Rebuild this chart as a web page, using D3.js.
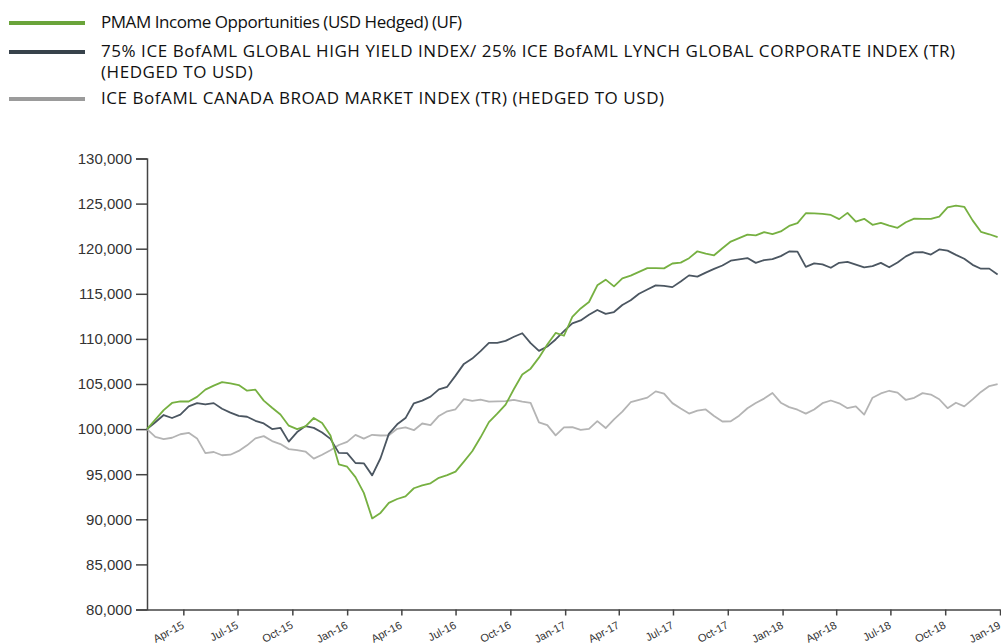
<!DOCTYPE html>
<html><head><meta charset="utf-8">
<script src="https://cdn.jsdelivr.net/npm/d3@7"></script>
<style>body{margin:0;background:#fff;overflow:hidden}svg{display:block}</style>
</head><body>
<svg id="chart" width="1001" height="644"></svg>
<script>
// ---- DATA ----
const startDate = "2015-01-30";   // first observation
const stepDays = 14;               // observations every two weeks

const pmamValues = [100000,101040,102110,102900,103070,103060,103570,104370,104820,105210,105060,104880,104260,104370,103160,102370,101620,100380,99990,100310,101230,100670,99290,96100,95830,94680,92930,90100,90710,91820,92250,92550,93440,93750,93990,94600,94900,95290,96400,97540,99090,100780,101710,102720,104450,106060,106700,107920,109380,110660,110350,112450,113380,114090,115940,116570,115820,116720,117020,117430,117850,117850,117820,118360,118460,118950,119710,119460,119270,120050,120790,121170,121560,121470,121830,121620,121920,122530,122830,123930,123920,123860,123740,123280,123970,123000,123310,122650,122860,122560,122310,122930,123340,123300,123300,123560,124570,124780,124640,123140,121870,121600,121290];

const blendValues = [100000,100760,101560,101230,101600,102510,102870,102730,102880,102250,101830,101460,101370,100920,100630,100000,100140,98610,99670,100330,100140,99630,98920,97360,97340,96240,96210,94870,96770,99470,100530,101220,102860,103160,103600,104410,104690,105930,107230,107820,108650,109550,109550,109780,110240,110630,109530,108670,109150,109940,110850,111730,112050,112670,113210,112780,112980,113760,114280,115010,115480,115940,115880,115740,116360,117040,116910,117350,117760,118140,118670,118820,118960,118430,118740,118840,119180,119690,119680,117990,118380,118270,117890,118440,118540,118240,117940,118060,118430,117940,118480,119150,119590,119610,119350,119920,119790,119320,118880,118210,117780,117790,117130];

const canadaValues = [100000,99140,98890,99040,99430,99590,98970,97340,97460,97100,97160,97580,98200,98970,99220,98670,98340,97780,97670,97510,96730,97160,97660,98240,98590,99360,98950,99370,99290,99320,100030,100190,99880,100620,100440,101460,101970,102200,103330,103130,103270,103040,103070,103100,103250,103040,102900,100740,100440,99300,100200,100220,99910,100030,100890,100120,101080,101930,102980,103230,103490,104180,103940,102880,102280,101720,102050,102180,101460,100840,100860,101490,102310,102900,103380,104000,102930,102440,102150,101720,102180,102870,103170,102860,102320,102520,101610,103480,103950,104250,104040,103230,103470,103990,103830,103310,102320,102920,102520,103300,104120,104770,104990];

const seriesNames = [
  ["PMAM Income Opportunities (USD Hedged) (UF)"],
  ["75% ICE BofAML GLOBAL HIGH YIELD INDEX/ 25% ICE BofAML LYNCH GLOBAL CORPORATE INDEX (TR)", "(HEDGED TO USD)"],
  ["ICE BofAML CANADA BROAD MARKET INDEX (TR) (HEDGED TO USD)"]
];
const lineColors = ["#76b041", "#4b5661", "#b4b4b4"];
const legendColors = ["#6aa43a", "#37424b", "#9b9b9b"];
const legendSpacing = [-0.45, 0.55, 0.55];

const xTickLabels = ["Apr-15","Jul-15","Oct-15","Jan-16","Apr-16","Jul-16","Oct-16","Jan-17","Apr-17","Jul-17","Oct-17","Jan-18","Apr-18","Jul-18","Oct-18","Jan-19"];
const yTickValues = [80000,85000,90000,95000,100000,105000,110000,115000,120000,125000,130000];
const xDomainEnd = "2019-01-01";

// ---- CHART ----
const svg = d3.select("#chart");
const parseISO = d3.timeParse("%Y-%m-%d");
const parseTick = d3.timeParse("%b-%y");
const t0 = parseISO(startDate);
const dates = pmamValues.map((_, i) => d3.timeDay.offset(t0, i * stepDays));

const x = d3.scaleTime().domain([t0, parseISO(xDomainEnd)]).range([147, 1000]);
const y = d3.scaleLinear().domain([80000, 130000]).range([609.5, 158.5]);

// legend
const lg = svg.append("g").attr("class", "legend");
const legendRows = [28, 57, 104];
seriesNames.forEach((lines, i) => {
  const yy = legendRows[i];
  lg.append("line").attr("x1", 9).attr("x2", 85).attr("y1", yy - 5).attr("y2", yy - 5)
    .attr("stroke", legendColors[i]).attr("stroke-width", 4);
  const t = lg.append("text").attr("x", 101).attr("y", yy)
    .attr("font-family", "'Open Sans', Lato, sans-serif").attr("font-size", 17)
    .attr("letter-spacing", legendSpacing[i]).attr("fill", "#111");
  lines.forEach((ln, j) => t.append("tspan").attr("x", 101).attr("dy", j === 0 ? 0 : 21).text(ln));
});

// axes
const yAxis = d3.axisLeft(y).tickValues(yTickValues).tickSize(11).tickPadding(4)
  .tickFormat(d3.format(","));
const gy = svg.append("g").attr("transform", "translate(147,0)").call(yAxis);
gy.select(".domain").attr("stroke", "#444").attr("stroke-width", 1.5);
gy.selectAll(".tick line").attr("stroke", "#444").attr("stroke-width", 1.5);
gy.selectAll(".tick text").attr("font-family", "'Liberation Sans', Arial, sans-serif")
  .attr("font-size", 15).attr("fill", "#333");

const xAxis = d3.axisBottom(x).tickValues(xTickLabels.map(parseTick)).tickSize(6).tickSizeOuter(0)
  .tickFormat(d3.timeFormat("%b-%y"));
const gx = svg.append("g").attr("transform", "translate(0,609.5)").call(xAxis);
gx.select(".domain").attr("stroke", "#444").attr("stroke-width", 1.5);
gx.selectAll(".tick line").attr("stroke", "#444").attr("stroke-width", 1.5);
gx.selectAll(".tick text").attr("font-family", "'Liberation Sans', Arial, sans-serif")
  .attr("font-size", 11).attr("fill", "#333")
  .attr("text-anchor", "end").attr("y", 0).attr("dy", 0)
  .attr("transform", "translate(1,18) rotate(-28)");

// lines
const allSeries = [pmamValues, blendValues, canadaValues];
const line = d3.line().x((d, i) => x(dates[i])).y(d => y(d));
[2, 1, 0].forEach(k => {
  svg.append("path").datum(allSeries[k]).attr("d", line)
    .attr("fill", "none").attr("stroke", lineColors[k]).attr("stroke-width", 1.8)
    .attr("stroke-linejoin", "round");
});
</script>
</body></html>
